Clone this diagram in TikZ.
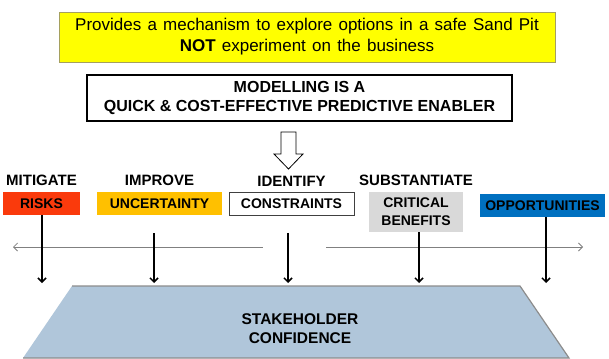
\documentclass[tikz,border=0pt]{standalone}
\usepackage{fontspec}
\setmainfont{Liberation Sans}
\usetikzlibrary{positioning, arrows.meta}
\definecolor{sandpit}{RGB}{255,255,0}
\definecolor{sandline}{RGB}{165,160,95}
\definecolor{riskred}{RGB}{250,58,12}
\definecolor{uncertain}{RGB}{255,192,0}
\definecolor{benefit}{RGB}{217,217,217}
\definecolor{opport}{RGB}{0,112,192}
\definecolor{stake}{RGB}{176,198,218}
\definecolor{stakeline}{RGB}{140,140,140}
\tikzset{
  x=1pt, y=-1pt, % one unit per pixel, y runs downwards
  >={Straight Barb[length=4pt,width=8pt]}, % open arrow heads
  box/.style={minimum height=23pt, inner sep=0pt, align=center,
    font=\fontsize{14}{18}\selectfont\bfseries}, % the coloured boxes
  action/.style={inner sep=0pt, font=\fontsize{15}{18}\selectfont\bfseries}, % the words above them
  feed/.style={->, line width=1.5pt}, % black arrows into the base
  spread/.style={<-, draw=gray, line width=0.8pt}, % the grey line across
}
\begin{document}
\begin{tikzpicture}
  \useasboundingbox (0,0) rectangle (609,358);
  \node[draw=sandline, fill=sandpit, line width=0.8pt, minimum width=496pt, minimum height=50pt,
    align=center, font={\fontsize{17}{21}\selectfont\spaceskip=6.2pt\relax}] (sand) at (307,37)
    {Provides a mechanism to explore options in a safe Sand Pit\\\textbf{NOT} experiment on the business};
  \node[draw, line width=1.2pt, minimum width=425pt, minimum height=46pt, align=center,
    font=\fontsize{16}{19}\selectfont\bfseries] (model) at (299.5,98)
    {MODELLING IS A\\QUICK \& COST-EFFECTIVE PREDICTIVE ENABLER};
  % hollow arrow
  \draw[line width=0.8pt, fill=white] (281,132) -- (296,132) -- (296,154) -- (303,154)
    -- (288.5,169) -- (274,154) -- (281,154) -- cycle;

  \node[box, fill=riskred, minimum width=77pt] (risks) at (41.5,203.5) {RISKS};
  \node[box, fill=uncertain, minimum width=125pt] (unc) at (159.5,203.5) {UNCERTAINTY};
  \node[box, draw=darkgray, line width=0.8pt, minimum width=125pt] (cons) at (291.5,204) {CONSTRAINTS};
  \node[box, fill=benefit, minimum width=94pt, minimum height=40pt] (bene) at (416,212) {CRITICAL\\BENEFITS};
  \node[box, fill=opport, minimum width=125pt] (opp) at (542.5,205.5) {OPPORTUNITIES};

  \node[action, above=5.5pt of risks] (mit) {MITIGATE};
  \node[action, above=5.5pt of unc] (imp) {IMPROVE};
  \node[action, above=5.5pt of cons] (idf) {IDENTIFY};
  \node[action, above=5.5pt of bene] (sub) {SUBSTANTIATE};

  \coordinate (wl) at (13,247);
  \coordinate (gl) at (263,247);
  \coordinate (gr) at (326,247);
  \coordinate (wr) at (583,247);
  \coordinate (base) at (300,283);
  \draw[spread] (wl) -- (gl);
  \draw[spread] (wr) -- (gr);
  \foreach \n/\dx/\gap in {risks/0.5pt/0pt, unc/-5.5pt/18pt, cons/-3.5pt/17pt, bene/3pt/0pt, opp/3.5pt/0pt}
    \draw[feed, shorten <=\gap] ([xshift=\dx]\n.south) -- ([xshift=\dx]\n.south |- base);

  \draw[fill=stake, draw=stakeline, line width=1.2pt] (72,286) -- (520,286) -- (569,358) -- (23,358);
  \node[align=center, font=\fontsize{15.5}{19}\selectfont\bfseries] (conf) at (300,328.5)
    {STAKEHOLDER\\CONFIDENCE};
\end{tikzpicture}
\end{document}
